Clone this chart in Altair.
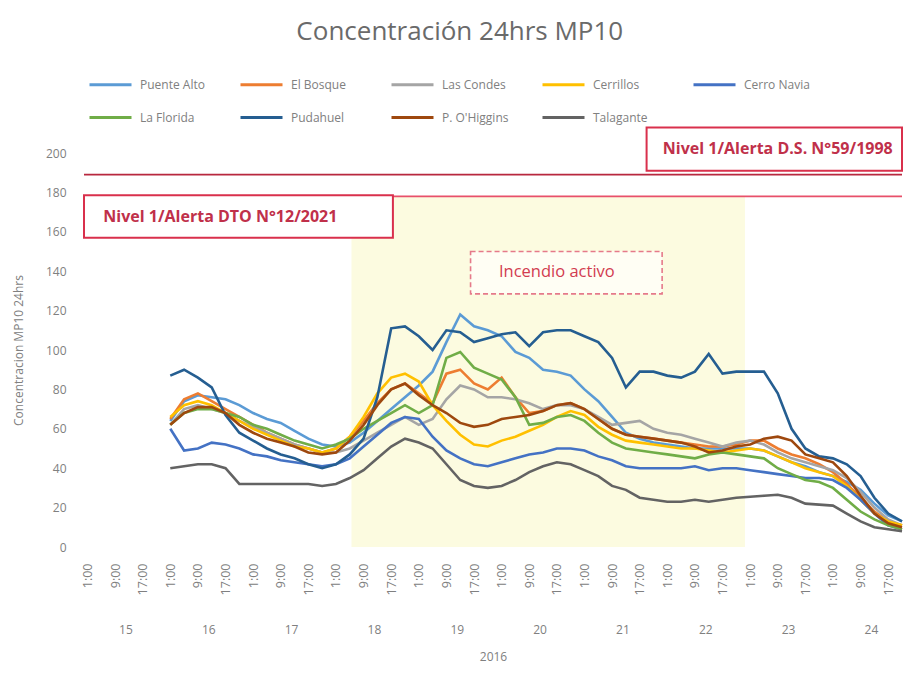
import altair as alt
import pandas as pd

# ---------------- data ----------------
hours = [25 + 4 * i for i in range(54)]  # hours since day 15 00:00

series_names = ["Puente Alto", "El Bosque", "Las Condes", "Cerrillos", "Cerro Navia",
                "La Florida", "Pudahuel", "P. O'Higgins", "Talagante"]
series_colors = ["#5B9BD5", "#ED7D31", "#A5A5A5", "#FFC000", "#4472C4",
                 "#70AD47", "#255E91", "#9E480E", "#636363"]

puente_alto = [64, 74, 77, 76, 75, 72, 68, 65, 63, 59,
               55, 52, 51, 53, 58, 64, 70, 76, 82, 89,
               104, 118, 112, 110, 107, 99, 96, 90, 89, 87,
               80, 74, 66, 58, 55, 53, 52, 51, 50, 50,
               50, 50, 50, 49, 46, 43, 41, 38, 36, 33,
               29, 22, 16, 13]
el_bosque = [65, 75, 78, 74, 70, 66, 62, 58, 55, 52,
             50, 48, 50, 56, 64, 73, 80, 83, 78, 73,
             88, 90, 83, 80, 86, 76, 68, 69, 72, 73,
             70, 65, 60, 57, 56, 55, 54, 53, 52, 51,
             51, 52, 54, 54, 50, 47, 45, 42, 38, 32,
             25, 18, 13, 11]
las_condes = [62, 70, 72, 70, 68, 64, 61, 58, 55, 52,
              50, 48, 48, 50, 54, 58, 62, 66, 62, 65,
              75, 82, 80, 76, 76, 75, 73, 70, 72, 72,
              70, 66, 62, 63, 64, 60, 58, 57, 55, 53,
              51, 53, 54, 52, 48, 45, 43, 41, 39, 35,
              28, 20, 14, 11]
cerrillos = [66, 72, 74, 72, 68, 64, 60, 57, 54, 51,
             50, 48, 50, 56, 66, 78, 86, 88, 84, 72,
             64, 57, 52, 51, 54, 56, 59, 62, 66, 69,
             67, 61, 57, 54, 53, 52, 51, 50, 50, 49,
             48, 49, 50, 49, 46, 43, 40, 38, 36, 31,
             24, 17, 13, 11]
cerro_navia = [60, 49, 50, 53, 52, 50, 47, 46, 44, 43,
               42, 41, 42, 45, 51, 57, 63, 66, 65, 56,
               49, 45, 42, 41, 43, 45, 47, 48, 50, 50,
               49, 46, 44, 41, 40, 40, 40, 40, 41, 39,
               40, 40, 39, 38, 37, 36, 35, 35, 34, 30,
               24, 17, 11, 9]
la_florida = [62, 68, 70, 70, 68, 66, 62, 60, 57, 54,
              52, 50, 52, 55, 60, 64, 68, 72, 68, 72,
              96, 99, 91, 88, 85, 76, 62, 63, 66, 67,
              64, 58, 53, 50, 49, 48, 47, 46, 45, 47,
              48, 47, 46, 45, 40, 37, 34, 33, 30, 24,
              18, 14, 11, 9]
pudahuel = [87, 90, 86, 81, 67, 58, 54, 50, 47, 45,
            42, 40, 42, 47, 55, 76, 111, 112, 107, 100,
            110, 109, 104, 106, 108, 109, 102, 109, 110, 110,
            107, 104, 96, 81, 89, 89, 87, 86, 89, 98,
            88, 89, 89, 89, 78, 60, 50, 46, 45, 42,
            36, 25, 17, 13]
p_ohiggins = [62, 68, 71, 71, 68, 62, 58, 55, 53, 51,
              48, 47, 48, 54, 62, 72, 80, 83, 77, 72,
              68, 63, 61, 62, 65, 66, 67, 69, 72, 73,
              70, 65, 60, 57, 56, 55, 54, 53, 51, 48,
              49, 51, 52, 55, 56, 54, 47, 45, 43, 36,
              26, 17, 12, 10]
talagante = [40, 41, 42, 42, 40, 32, 32, 32, 32, 32,
             32, 31, 32, 35, 39, 45, 51, 55, 53, 50,
             42, 34, 31, 30, 31, 34, 38, 41, 43, 42,
             39, 36, 31, 29, 25, 24, 23, 23, 24, 23,
             24, 25, 25.5, 26, 26.5, 25, 22, 21.5, 21, 17,
             13, 10, 9, 8]

all_values = [puente_alto, el_bosque, las_condes, cerrillos, cerro_navia,
              la_florida, pudahuel, p_ohiggins, talagante]

# axis ticks
day_numbers = list(range(15, 25))
hour_ticks = [24 * i + h for i in range(len(day_numbers)) for h in (1, 9, 17)]
day_centers = [24 * i + 12 for i in range(len(day_numbers))]
y_ticks = list(range(0, 201, 20))

# reference levels (as drawn)
level_values = [189, 178]
level_colors = ["#b8283f", "#e8506a"]

# annotation boxes (data coordinates)
box_labels = ["Nivel 1/Alerta D.S. N°59/1998", "Nivel 1/Alerta DTO N°12/2021"]
box_x0 = [163, 0]
box_x1 = [237, 89.5]
box_y0 = [191, 157]
box_y1 = [213, 178.5]
box_tx = [201, 39.5]
box_ty = [202, 167.5]

fire_label = "Incendio activo"
fire_box = dict(x0=112, x1=167.5, y0=128.5, y1=150, tx=137, ty=139.5)
fire_shade = dict(x0=77.5, x1=191.5, y0=0, y1=178)

# ---------------- build ----------------
rows = []
for name, vals in zip(series_names, all_values):
    for h, v in zip(hours, vals):
        rows.append({"hora": h, "serie": name, "valor": v})
df = pd.DataFrame(rows)

xs = alt.Scale(domain=[0, 237], nice=False, zero=False)
ys = alt.Scale(domain=[0, 200], nice=False, zero=False)
GRAY = "#808080"
FONT = "Open Sans"

shade_df = pd.DataFrame([fire_shade])
shade = alt.Chart(shade_df).mark_rect(color="#fcfbe0").encode(
    x=alt.X("x0:Q", scale=xs, axis=alt.Axis(
        orient="bottom",
        values=day_centers, labelExpr="floor(datum.value / 24) + 15",
        offset=77, ticks=False, domain=False, grid=False, labelPadding=0,
        labelFontSize=12, labelColor=GRAY, labelFont=FONT, labelAngle=0,
        title="2016", titlePadding=16, titleFontSize=12, titleFontWeight="normal",
        titleColor=GRAY, titleFont=FONT)),
    x2="x1:Q",
    y=alt.Y("y0:Q", scale=ys, axis=None),
    y2="y1:Q",
)

rules = alt.layer(*[
    alt.Chart(pd.DataFrame({"valor": [v]})).mark_rule(color=c, strokeWidth=1.6).encode(
        y=alt.Y("valor:Q", scale=ys, axis=None))
    for v, c in zip(level_values, level_colors)
])

box_df = pd.DataFrame({"label": box_labels, "x0": box_x0, "x1": box_x1,
                       "y0": box_y0, "y1": box_y1, "tx": box_tx, "ty": box_ty})
boxes = alt.Chart(box_df).mark_rect(fill="white", stroke="#d9304c", strokeWidth=2).encode(
    x=alt.X("x0:Q", scale=xs, axis=None), x2="x1:Q",
    y=alt.Y("y0:Q", scale=ys, axis=None), y2="y1:Q")
box_text = alt.Chart(box_df).mark_text(font=FONT, fontWeight="bold", fontSize=16,
                                       color="#c0304a").encode(
    x=alt.X("tx:Q", scale=xs, axis=None),
    y=alt.Y("ty:Q", scale=ys, axis=None),
    text="label:N")

fire_df = pd.DataFrame([dict(fire_box, label=fire_label)])
fire_rect = alt.Chart(fire_df).mark_rect(fill="#fffef4", stroke="#e57a8a", strokeWidth=1.6,
                                         strokeDash=[5, 3]).encode(
    x=alt.X("x0:Q", scale=xs, axis=None), x2="x1:Q",
    y=alt.Y("y0:Q", scale=ys, axis=None), y2="y1:Q")
fire_text = alt.Chart(fire_df).mark_text(font=FONT, fontSize=16.5, color="#d23c50").encode(
    x=alt.X("tx:Q", scale=xs, axis=None),
    y=alt.Y("ty:Q", scale=ys, axis=None),
    text="label:N")

lines = alt.Chart(df).mark_line(strokeWidth=2.6).encode(
    x=alt.X("hora:Q", scale=xs, axis=alt.Axis(
        orient="bottom",
        values=hour_ticks, labelExpr="(datum.value % 24) + ':00'",
        labelAngle=270, labelPadding=16, labelFontSize=12.5, labelColor=GRAY,
        labelFont=FONT, ticks=False, domain=False, grid=False, title=None,
        labelOverlap=False)),
    y=alt.Y("valor:Q", scale=ys, axis=alt.Axis(
        orient="left",
        values=y_ticks, labelFontSize=12, labelColor=GRAY, labelFont=FONT,
        labelPadding=18, ticks=False, domain=False, grid=False,
        title="Concentracion MP10 24hrs", titleFontSize=12, titleFontWeight="normal",
        titleColor=GRAY, titleFont=FONT, titlePadding=20)),
    color=alt.Color("serie:N", sort=series_names,
                    scale=alt.Scale(domain=series_names, range=series_colors),
                    legend=alt.Legend(
                        orient="none", legendX=4, legendY=-91, columns=5,
                        direction="horizontal", title=None, symbolType="stroke",
                        symbolSize=1764, symbolStrokeWidth=3, labelFontSize=12,
                        labelColor=GRAY, labelFont=FONT, labelOffset=7,
                        columnPadding=27, rowPadding=4, gridAlign="all",
                        padding=0, labelLimit=200)),
    order=alt.Order("hora:Q"),
)

chart = alt.layer(shade, rules, boxes, box_text, fire_rect, fire_text, lines).resolve_axis(
    x="independent", y="independent"
).properties(
    width=818, height=394,
    autosize=alt.AutoSizeParams(type="none"),
    padding={"left": 76, "top": 145, "right": 2, "bottom": 116},
    title=alt.TitleParams("Concentración 24hrs MP10", fontSize=26, font=FONT,
                          fontWeight="normal", color="#6a6a6a", anchor="middle",
                          frame="bounds", offset=17),
).configure_view(stroke=None)

chart.save("out.html", embed_options={"renderer": "svg", "actions": False})
